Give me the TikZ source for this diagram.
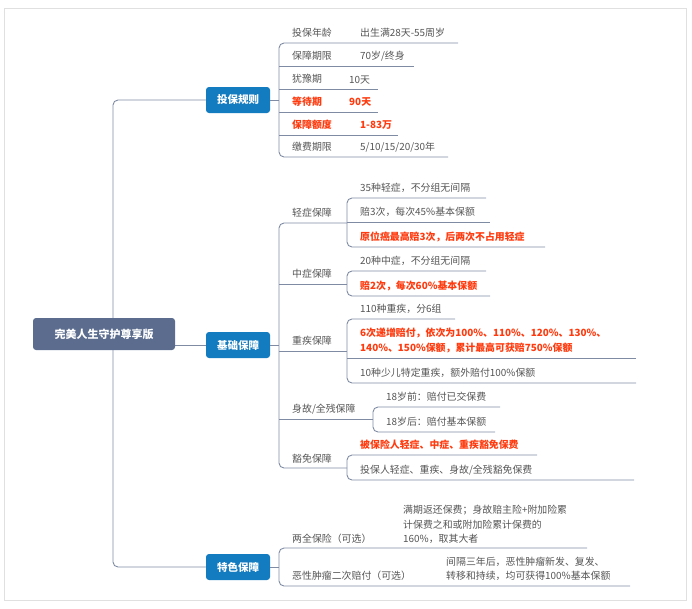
\documentclass[tikz,border=0pt]{standalone}
\usepackage{fontspec}
\setmainfont{Noto Sans CJK SC}
\usepackage{tikz}

\definecolor{linegray}{HTML}{7F8BA3}
\definecolor{txtgray}{HTML}{555555}
\definecolor{hot}{HTML}{FF3A0E}
\definecolor{branchblue}{HTML}{137BC0}
\definecolor{rootslate}{HTML}{5B6C8E}

\tikzset{
  link/.style={linegray, line width=0.9pt, rounded corners=5pt},
  leaf/.style={anchor=south west, inner sep=0pt, text=txtgray, font=\fontsize{9.9}{12}\selectfont},
  hotleaf/.style={leaf, text=hot, font=\fontsize{9.9}{12}\selectfont\bfseries},
  branch/.style={fill=branchblue, text=white, rounded corners=3pt, minimum width=64pt,
    minimum height=26pt, font=\fontsize{10.5}{12}\selectfont\bfseries},
}

\begin{document}
\begin{tikzpicture}[x=1pt,y=-1pt]
  \useasboundingbox (0,0) rectangle (692,608);
  \draw[black!12, line width=0.8pt] (4,8) rectangle (686,600);

  % trunk
  \draw[link] (206,100) -| (113,567) -- (206,567);
  \draw[link] (113,345) -- (206,345);
  \node[fill=rootslate, text=white, rounded corners=3pt, minimum width=142pt, minimum height=32pt,
    font=\fontsize{11}{12}\selectfont\bfseries] (root) at (104,334) {完美人生守护尊享版};
  \node[branch] (rules) at (238,100) {投保规则};
  \node[branch] (basic) at (238,345) {基础保障};
  \node[branch] (extra) at (238,567) {特色保障};

  % 投保规则
  \draw[link] (rules.east) -- (279,100);
  \draw[link] (458,43) -| (279,157) -- (448,157);
  \draw[link] (279,66) -- (414,66);
  \draw[link] (279,89) -- (378,89);
  \draw[link] (279,112) -- (378,112);
  \draw[link] (279,135) -- (398,135);
  \node[leaf] (age) at (292,38) {投保年龄};
  \node[leaf] (ageval) at (360,38) {出生满28天-55周岁};
  \node[leaf] (term) at (292,61) {保障期限};
  \node[leaf] (termval) at (360,61) {70岁/终身};
  \node[leaf] (cool) at (292,84) {犹豫期};
  \node[leaf] (coolval) at (349,84) {10天};
  \node[hotleaf] (wait) at (292,107) {等待期};
  \node[hotleaf] (waitval) at (349,107) {90天};
  \node[hotleaf] (sum) at (292,130) {保障额度};
  \node[hotleaf] (sumval) at (360,130) {1-83万};
  \node[leaf] (pay) at (292,152) {缴费期限};
  \node[leaf] (payval) at (360,152) {5/10/15/20/30年};

  % 基础保障
  \draw[link] (basic.east) -- (279,345);
  \draw[link] (347,223) -| (279,468) -- (347,468);
  \draw[link] (279,284) -- (347,284);
  \draw[link] (279,351) -- (347,351);
  \draw[link] (279,419) -- (373,419);
  \node[leaf] (mild) at (292,218) {轻症保障};
  \node[leaf] (mid) at (292,279) {中症保障};
  \node[leaf] (severe) at (292,346) {重疾保障};
  \node[leaf] (death) at (292,414) {身故/全残保障};
  \node[leaf] (waive) at (292,463) {豁免保障};

  \draw[link] (486,198) -| (347,247) -- (545,247);
  \draw[link] (347,222) -- (490,222);
  \node[leaf] (mild1) at (360,193) {35种轻症，不分组无间隔};
  \node[leaf] (mild2) at (360,217) {赔3次，每次45\%基本保额};
  \node[hotleaf] (mild3) at (360,242) {原位癌最高赔3次，后两次不占用轻症};

  \draw[link] (486,271) -| (347,296) -- (490,296);
  \node[leaf] (mid1) at (360,266) {20种中症，不分组无间隔};
  \node[hotleaf] (mid2) at (360,291) {赔2次，每次60\%基本保额};

  \draw[link] (455,319) -| (347,383) -- (636,383);
  \draw[link] (347,358) -- (636,358);
  \node[leaf] (sev1) at (360,314) {110种重疾，分6组};
  \node[hotleaf, align=left, font=\fontsize{9.9}{14.5}\selectfont\bfseries] (sev2) at (360,353)
    {6次递增赔付，依次为100\%、110\%、120\%、130\%、\\140\%、150\%保额，累计最高可获赔750\%保额};
  \node[leaf] (sev3) at (360,378) {10种少儿特定重疾，额外赔付100\%保额};

  \draw[link] (500,407) -| (373,432) -- (495,432);
  \node[leaf] (death1) at (386,402) {18岁前：赔付已交保费};
  \node[leaf] (death2) at (386,427) {18岁后：赔付基本保额};

  \draw[link] (537,455) -| (347,480) -- (634,480);
  \node[hotleaf] (waive1) at (360,450) {被保险人轻症、中症、重疾豁免保费};
  \node[leaf] (waive2) at (360,475) {投保人轻症、重疾、身故/全残豁免保费};

  % 特色保障
  \draw[link] (extra.east) -- (279,567);
  \draw[link] (587,548) -| (279,586) -- (630,586);
  \node[leaf] (endow) at (292,544) {两全保险（可选）};
  \node[leaf, align=left, font=\fontsize{9.9}{14.5}\selectfont] (endowval) at (403,544)
    {满期返还保费；身故赔主险+附加险累\\计保费之和或附加险累计保费的\\160\%，取其大者};
  \node[leaf] (second) at (292,581) {恶性肿瘤二次赔付（可选）};
  \node[leaf, align=left, font=\fontsize{9.9}{14.5}\selectfont] (secondval) at (446,581)
    {间隔三年后，恶性肿瘤新发、复发、\\转移和持续，均可获得100\%基本保额};
\end{tikzpicture}
\end{document}
